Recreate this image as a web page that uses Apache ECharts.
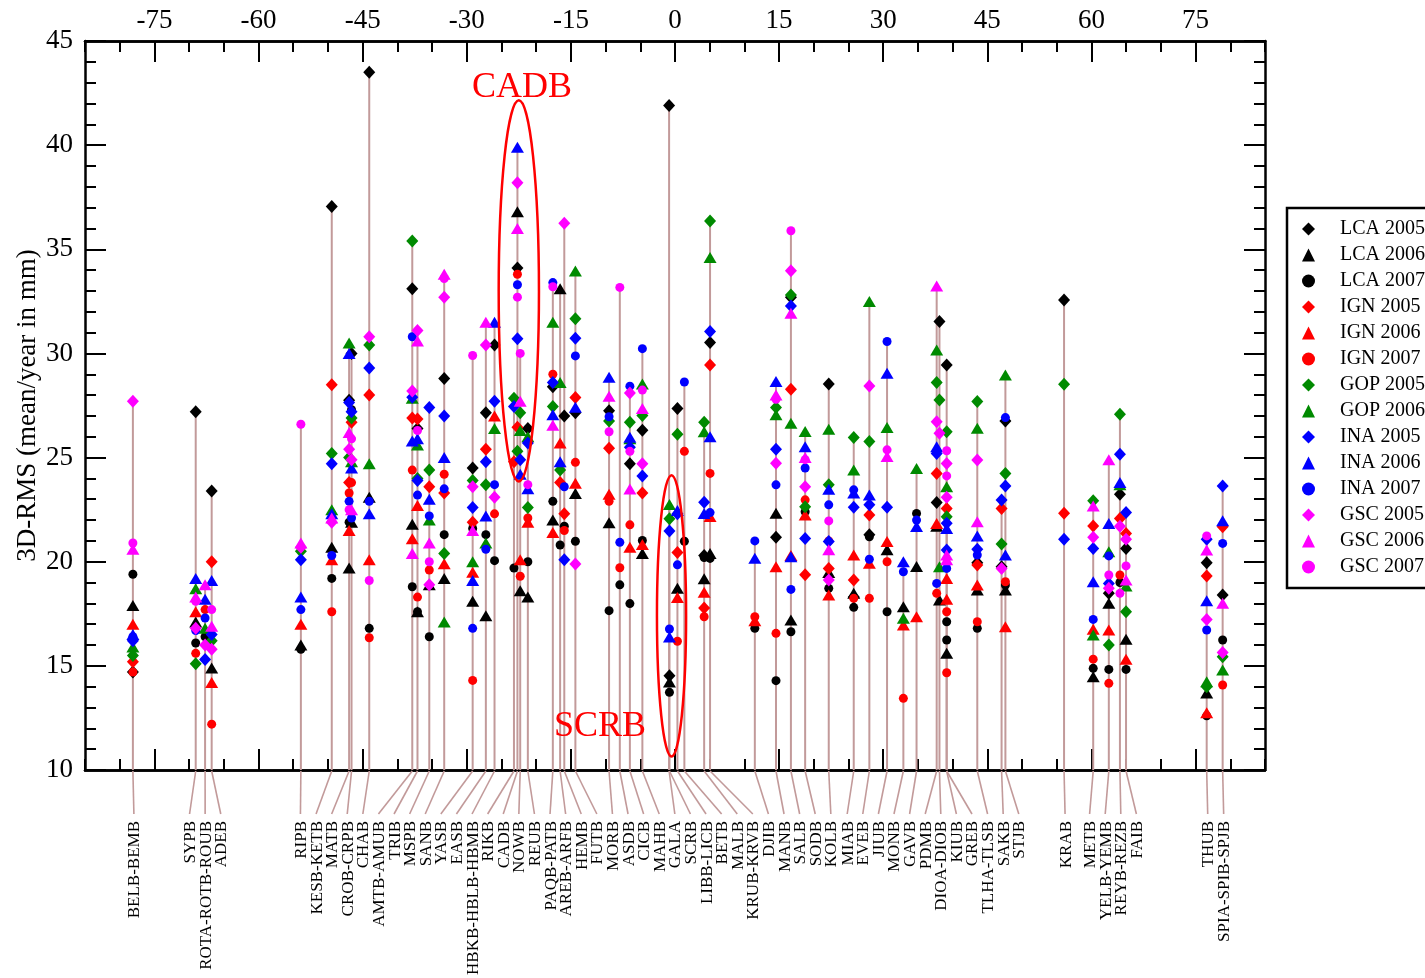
<!DOCTYPE html>
<html>
<head>
<meta charset="utf-8">
<script src="https://cdn.jsdelivr.net/npm/echarts@6/dist/echarts.min.js"></script>
<style>
  html, body { margin: 0; padding: 0; background: #fff; }
  #chart { width: 1425px; height: 978px; }
</style>
</head>
<body>
<div id="chart"></div>
<script>
const _ = null;

// stations, ordered by latitude (x axis)
const stations = ['BELB-BEMB','SYPB','ROTA-ROTB-ROUB','ADEB','RIPB','KESB-KETB','MATB','CROB-CRPB','CHAB','AMTB-AMUB',
  'TRIB','MSPB','SANB','YASB','EASB','HBKB-HBLB-HBMB','RIKB','CADB','NOWB','REUB',
  'PAQB-PATB','AREB-ARFB','HEMB','FUTB','MORB','ASDB','CICB','MAHB','GALA','SCRB',
  'LIBB-LICB','BETB','MALB','KRUB-KRVB','DJIB','MANB','SALB','SODB','KOLB','MIAB',
  'EVEB','JIUB','MONB','GAVB','PDMB','DIOA-DIOB','KIUB','GREB','TLHA-TLSB','SAKB',
  'STJB','KRAB','METB','YELB-YEMB','REYB-REZB','FAIB','THUB','SPIA-SPIB-SPJB'];
const latitudes = [-78.1,-69.05,-67.7,-66.75,-53.9,-49.45,-46.95,-46.6,-44.05,-37.85,
  -37.1,-35.4,-33.25,-29.15,-27.25,-26.0,-23.2,-22.7,-22.3,-21.2,
  -17.6,-16.55,-15.95,-14.35,-9.5,-7.95,-6.5,-4.7,-0.85,-0.8,
  0.35,1.35,4.2,5.05,11.5,14.55,16.7,18.75,22.15,25.75,
  28.0,30.55,32.9,34.8,37.7,38.1,39.14,39.14,43.55,47.05,
  47.6,56.05,60.25,62.5,64.1,64.98,76.6,78.9];

// 3D-RMS values (mm), one entry per station
const lca2005 = [14.7,27.2,_,23.4,_,37.05,27.75,30.0,43.5,33.1,
  26.4,_,28.8,24.5,27.15,30.4,_,34.1,_,26.4,
  28.4,_,27.0,27.15,27.25,_,24.7,26.31,41.9,14.52,
  27.35,_,20.3,30.52,_,21.17,32.7,_,28.53,18.3,
  21.3,_,_,_,22.84,31.53,29.45,_,19.95,19.76,
  26.76,32.57,_,18.48,23.24,20.64,19.95,18.4];
const lca2006 = [17.9,17.1,_,14.9,16.0,20.7,19.7,21.9,23.1,21.8,
  17.6,18.9,19.2,18.1,17.4,_,_,36.8,18.6,18.3,
  22.0,33.1,_,23.27,21.87,_,_,20.4,_,14.22,
  18.73,_,19.18,20.4,_,22.33,17.2,_,19.48,18.48,
  _,20.57,17.84,19.77,21.7,18.16,15.6,_,18.64,_,
  18.64,_,14.48,18.0,_,16.28,13.7,_];
const lca2007 = [19.4,16.1,16.4,_,15.8,19.2,21.9,27.3,16.8,18.8,
  17.6,16.4,21.3,21.6,21.3,20.05,19.7,_,_,20.0,
  22.9,20.8,21.7,20.98,17.65,18.89,17.99,21.02,_,13.73,
  _,20.98,20.2,20.16,16.8,14.29,16.64,22.4,18.72,17.81,
  21.2,17.6,_,22.32,_,_,17.12,16.24,16.8,_,
  18.88,_,14.88,14.83,19.0,14.83,12.6,16.24];
const ign2005 = [15.2,_,_,20.0,_,28.5,23.8,26.7,28.0,26.9,
  26.85,23.6,23.3,21.9,25.4,_,24.8,26.45,_,_,
  _,23.8,22.3,27.89,25.45,_,_,23.3,_,_,
  20.44,_,17.78,29.45,_,_,28.28,19.37,19.68,19.12,
  22.24,_,_,_,24.24,_,22.56,_,19.84,22.56,
  _,22.33,21.72,_,22.08,21.36,19.32,21.68];
const ign2006 = [17.0,17.6,_,14.2,17.0,20.1,21.5,_,20.1,21.1,
  22.7,_,19.9,19.5,_,27.0,_,_,20.1,21.9,
  21.4,25.7,_,23.77,23.24,_,20.69,20.83,_,_,
  18.28,_,18.53,22.17,17.17,19.76,20.3,22.24,18.4,20.32,
  19.93,20.97,16.96,17.36,21.84,_,19.2,18.2,18.88,_,
  16.88,_,16.76,16.72,_,15.32,12.75,_];
const ign2007 = [14.7,15.6,17.7,12.2,_,17.6,23.3,23.8,16.35,24.4,
  18.3,19.6,24.2,14.3,_,22.3,_,33.8,19.3,22.1,
  29.0,_,21.5,24.77,22.9,19.71,21.77,_,_,_,
  16.18,25.3,17.36,24.24,17.36,16.56,_,22.97,21.0,18.24,
  18.24,20.0,13.44,_,18.48,_,17.6,14.67,17.12,_,
  19.04,_,15.32,14.16,19.36,_,_,14.08];
const gop2005 = [15.5,15.1,_,16.2,20.5,25.2,25.0,26.9,30.4,35.4,
  24.0,24.4,20.4,23.9,23.7,_,27.85,25.3,27.15,22.6,
  27.45,24.4,_,31.67,26.76,_,26.7,27.02,_,22.06,
  26.12,_,26.7,36.36,_,27.4,32.81,22.64,23.69,25.96,
  25.77,_,_,_,28.6,27.77,26.24,22.16,27.69,20.85,
  24.24,28.52,22.93,16.0,27.08,17.6,14.0,15.44];
const gop2006 = [15.9,18.7,16.8,_,_,22.5,30.5,24.8,24.7,27.85,
  25.6,22.0,17.1,20.0,20.9,26.4,_,_,26.3,26.0,
  31.5,28.6,_,33.96,_,_,25.9,28.53,_,22.75,
  _,_,26.24,34.61,_,27.05,26.65,26.25,26.36,24.4,
  32.49,26.44,17.28,24.48,30.17,19.76,23.6,_,26.41,_,
  28.97,_,16.48,20.48,23.7,18.83,14.24,14.8];
const ina2005 = [16.2,_,15.3,16.5,20.1,24.7,27.65,27.2,29.3,27.9,
  23.9,27.4,27.0,22.6,24.8,27.7,27.45,30.7,24.9,25.7,
  28.6,_,20.1,30.73,_,_,25.49,24.12,_,21.47,
  22.3,_,22.85,31.05,_,25.4,32.28,21.12,20.97,22.61,
  22.73,22.61,_,_,25.2,_,21.85,20.56,20.6,22.96,
  23.64,21.08,20.64,18.96,25.16,22.36,21.08,23.64];
const ina2006 = [16.5,19.2,18.2,19.1,18.3,22.3,30.0,24.5,22.3,25.8,
  25.9,23.0,25.0,19.1,22.2,31.5,_,39.9,24.2,23.5,
  27.05,24.8,_,27.41,28.86,_,25.98,_,_,16.38,
  22.46,_,22.32,26.0,20.17,28.65,20.24,25.52,23.48,23.3,
  23.2,29.05,20.0,21.69,25.52,_,21.6,_,21.24,_,
  20.32,_,19.04,21.84,23.8,_,18.13,21.97];
const ina2007 = [16.4,16.7,17.3,_,17.7,20.3,22.9,22.1,22.9,30.8,
  23.2,22.2,23.5,16.8,20.6,23.7,_,33.3,_,_,
  33.4,_,23.6,29.88,26.96,20.93,28.43,30.23,_,16.77,
  19.85,28.63,_,22.36,21.0,23.69,18.67,24.5,22.73,23.45,
  20.12,30.57,19.52,22.0,18.96,_,19.68,_,20.32,_,
  26.92,_,17.23,20.28,_,_,16.72,20.88];
const gsc2005 = [27.7,16.8,16.0,15.8,20.7,21.9,25.4,24.9,30.8,28.2,
  31.1,18.9,32.7,23.6,30.4,23.1,_,38.2,_,_,
  _,_,36.25,19.89,_,_,28.1,24.7,_,_,
  _,_,_,_,_,24.73,33.97,23.6,19.12,_,
  28.44,_,_,_,26.72,26.17,23.09,24.72,24.88,19.68,
  _,_,21.17,18.72,21.7,21.08,17.23,15.64];
const gsc2006 = [20.6,18.3,18.9,16.9,20.9,22.1,26.2,22.5,_,20.4,
  30.6,20.9,33.8,21.5,31.5,_,_,36.0,27.7,_,
  26.55,_,_,_,27.94,_,23.49,27.35,_,_,
  _,_,_,_,_,28.0,31.93,25.0,20.57,_,
  _,25.05,_,_,33.24,_,20.32,20.1,21.92,_,
  _,_,22.68,24.89,_,19.12,20.56,18.0];
const gsc2007 = [20.9,18.1,_,17.7,26.6,_,22.5,25.9,19.1,_,
  26.3,20.0,33.6,29.9,_,_,_,32.7,30.0,23.7,
  33.2,_,_,_,26.24,33.17,25.3,28.24,_,_,
  _,_,_,_,_,27.8,35.89,24.9,21.96,_,
  _,25.37,_,_,_,_,25.33,24.12,_,_,
  _,_,_,19.36,18.48,19.8,21.24,_];

const seriesNames = ['LCA 2005','LCA 2006','LCA 2007','IGN 2005','IGN 2006','IGN 2007','GOP 2005','GOP 2006',
  'INA 2005','INA 2006','INA 2007','GSC 2005','GSC 2006','GSC 2007'];
const seriesValues = [lca2005, lca2006, lca2007, ign2005, ign2006, ign2007, gop2005, gop2006,
  ina2005, ina2006, ina2007, gsc2005, gsc2006, gsc2007];

// top axis labels / major ticks
const majorX = [-75, -60, -45, -30, -15, 0, 15, 30, 45, 60, 75];

// annotations: [centre lat, top, bottom, half width, text lat, text y]
const noteNames = ['CADB', 'SCRB'];
const noteShapes = [[-22.5, 42.15, 23.85, 2.9, -22.05, 42.75], [-0.5, 24.15, 10.65, 2.1, -10.8, 12.1]];

const FONT = '"Liberation Serif", "Times New Roman", "DejaVu Serif", serif';
const colors = { k: '#000000', r: '#ff0000', g: '#008a00', b: '#0000ff', m: '#ff00ff' };
const seriesColor = ['k','k','k','r','r','r','g','g','b','b','b','m','m','m'].map(c => colors[c]);
const seriesSymbol = ['diamond','triangle','circle','diamond','triangle','circle','diamond','triangle',
  'diamond','triangle','circle','diamond','triangle','circle'];
const symbolSizes = { diamond: [12, 13], triangle: [13, 11], circle: 9 };
const STEM = '#c29a9a';

// top of each stem = largest value of the station
const stationMax = stations.map((s, i) => {
  let m = -Infinity;
  seriesValues.forEach(arr => { if (arr[i] != null && arr[i] > m) m = arr[i]; });
  return m;
});

// spread the station labels under the axis so they do not overlap
const gridLeft = 85, gridWidth = 1180;
const pxPerDeg = gridWidth / 170;
function spreadLabels(pos, gap) {
  let clusters = pos.map(p => ({ n: 1, sum: p }));
  const start = c => c.sum / c.n - gap * (c.n - 1) / 2;
  let changed = true;
  while (changed) {
    changed = false;
    for (let k = 0; k < clusters.length - 1; k++) {
      const a = clusters[k], b = clusters[k + 1];
      if (start(a) + gap * a.n > start(b) + 1e-9) {
        clusters.splice(k, 2, { n: a.n + b.n, sum: a.sum + b.sum });
        changed = true;
        break;
      }
    }
  }
  const out = [];
  clusters.forEach(c => { const s = start(c); for (let j = 0; j < c.n; j++) out.push(s + j * gap); });
  return out;
}
const labelLat = spreadLabels(latitudes, 15.6 / pxPerDeg);

var chartDom = document.getElementById('chart');
var myChart = echarts.init(chartDom, null, { renderer: 'canvas' });

const scatterSeries = seriesNames.map((name, s) => ({
  name: name,
  type: 'scatter',
  z: 3,
  symbol: seriesSymbol[s],
  symbolSize: symbolSizes[seriesSymbol[s]],
  itemStyle: { color: seriesColor[s], opacity: 1 },
  data: latitudes.map((lat, i) => [lat, seriesValues[s][i]]).filter(d => d[1] != null)
}));

const stemSeries = {
  type: 'custom',
  z: 1,
  silent: true,
  clip: false,
  data: latitudes.map((lat, i) => [lat, stationMax[i], labelLat[i]]),
  renderItem: function (params, api) {
    const top = api.coord([api.value(0), api.value(1)]);
    const base = api.coord([api.value(0), 10]);
    const lab = api.coord([api.value(2), 10]);
    return {
      type: 'group',
      children: [
        { type: 'line', shape: { x1: base[0], y1: base[1], x2: top[0], y2: top[1] },
          style: { stroke: STEM, lineWidth: 2 } },
        { type: 'line', shape: { x1: base[0], y1: base[1] + 1, x2: lab[0] + 1, y2: base[1] + 44 },
          style: { stroke: STEM, lineWidth: 1.6 } },
        { type: 'text', x: lab[0] + 2, y: base[1] + 51, rotation: Math.PI / 2,
          style: { text: stations[params.dataIndex], fill: '#000', fontSize: 17, fontFamily: FONT,
                   align: 'right', verticalAlign: 'middle' } }
      ]
    };
  }
};

const noteSeries = {
  type: 'custom',
  z: 4,
  silent: true,
  clip: false,
  data: noteShapes,
  renderItem: function (params, api) {
    const c = api.coord([api.value(0), (api.value(1) + api.value(2)) / 2]);
    const t = api.coord([api.value(0), api.value(1)]);
    const e = api.coord([api.value(0) + api.value(3), api.value(1)]);
    const p = api.coord([api.value(4), api.value(5)]);
    return {
      type: 'group',
      children: [
        { type: 'ellipse', shape: { cx: c[0], cy: c[1], rx: e[0] - t[0], ry: c[1] - t[1] },
          style: { stroke: '#ff0000', lineWidth: 2.5, fill: null } },
        { type: 'text', x: p[0], y: p[1],
          style: { text: noteNames[params.dataIndex], fill: '#ff0000', fontSize: 36, fontFamily: FONT,
                   align: 'center', verticalAlign: 'middle' } }
      ]
    };
  }
};

const axisLineStyle = { color: '#000', width: 2.5 };
function xAxisDef(position, major) {
  return {
    type: 'value', min: -85, max: 85, position: position,
    interval: major ? undefined : 5,
    axisLine: { show: true, onZero: false, lineStyle: axisLineStyle },
    axisTick: major
      ? { show: true, inside: true, length: 21, customValues: majorX, lineStyle: { color: '#000', width: 2 } }
      : { show: true, inside: true, length: 11, lineStyle: { color: '#000', width: 2 } },
    axisLabel: (major && position === 'top')
      ? { show: true, customValues: majorX, fontSize: 27, fontFamily: FONT, color: '#000', margin: 7 }
      : { show: false },
    splitLine: { show: false }
  };
}
function yAxisDef(position) {
  return {
    type: 'value', min: 10, max: 45, interval: 5, position: position,
    axisLine: { show: true, onZero: false, lineStyle: axisLineStyle },
    axisTick: { show: true, inside: true, length: 21, lineStyle: { color: '#000', width: 2 } },
    minorTick: { show: true, splitNumber: 5, length: 11, lineStyle: { color: '#000', width: 2 } },
    axisLabel: position === 'left'
      ? { show: true, fontSize: 27, fontFamily: FONT, color: '#000', margin: 12 }
      : { show: false },
    name: position === 'left' ? '3D-RMS (mean/year in mm)' : '',
    nameLocation: 'middle',
    nameGap: 44,
    nameMoveOverlap: false,
    nameTextStyle: { fontSize: 27, fontFamily: FONT, color: '#000' },
    splitLine: { show: false }
  };
}

var option = {
  animation: false,
  backgroundColor: '#fff',
  grid: { left: gridLeft, top: 41, width: gridWidth, height: 729, containLabel: false },
  xAxis: [xAxisDef('top', true), xAxisDef('top', false), xAxisDef('bottom', true), xAxisDef('bottom', false)],
  yAxis: [yAxisDef('left'), yAxisDef('right')],
  legend: {
    orient: 'vertical',
    left: 1287,
    top: 208,
    data: seriesNames,
    itemWidth: 13,
    itemHeight: 13,
    itemGap: 6,
    padding: [11, 10, 11, 15],
    borderColor: '#000',
    borderWidth: 2.5,
    backgroundColor: '#fff',
    textStyle: { fontSize: 20, fontFamily: FONT, color: '#000', lineHeight: 20, padding: [0, 0, 0, 20] }
  },
  series: [stemSeries].concat(scatterSeries, [noteSeries])
};

myChart.setOption(option);

window.addEventListener('resize', function () {
  myChart.resize();
});
</script>
</body>
</html>
